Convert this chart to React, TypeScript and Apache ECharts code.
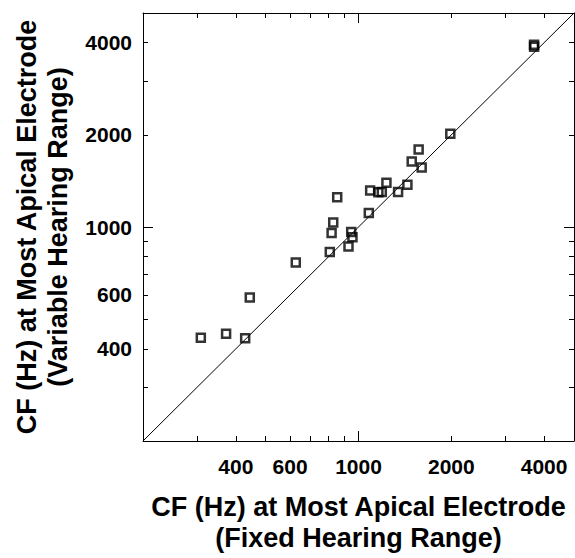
import React, { useEffect, useRef } from "react";
import * as echarts from "echarts";

// CF (Hz) at most apical electrode
const fixedHz = [308, 372, 429, 444, 626, 807, 818, 828, 853, 928, 947, 956, 1080, 1091, 1160, 1190, 1232, 1344, 1441, 1488, 1603, 1567, 1985, 3710, 3712];
const variableHz = [435, 448, 433, 589, 766, 828, 956, 1035, 1250, 863, 963, 926, 1110, 1315, 1298, 1301, 1395, 1301, 1375, 1636, 1564, 1792, 2015, 3935, 3880];
const identityHz = [200, 5000];
const axisRangeHz = [200, 5000];
const tickLabelsHz = [400, 600, 1000, 2000, 4000];
const minorTicksHz = [300, 400, 500, 600, 700, 800, 900, 2000, 3000, 4000];
const majorTicksHz = [1000];

const xTitle = "CF (Hz) at Most Apical Electrode\n(Fixed Hearing Range)";
const yTitle = "CF (Hz) at Most Apical Electrode\n(Variable Hearing Range)";

const lg = (v: number) => Math.log10(v);
const FONT = "'Liberation Sans', Arial, Helvetica, sans-serif";

function axis(position: string, kind: "minor" | "major", withLabels: boolean, extra: any = {}) {
  return {
    type: "value",
    position,
    min: lg(axisRangeHz[0]),
    max: lg(axisRangeHz[1]),
    splitLine: { show: false },
    axisLine: { show: kind === "minor", onZero: false, lineStyle: { color: "#000", width: 1 } },
    axisTick: {
      show: true,
      inside: true,
      length: kind === "minor" ? 5 : 10,
      customValues: (kind === "minor" ? minorTicksHz : majorTicksHz).map(lg),
      lineStyle: { color: "#000", width: 1 },
    },
    axisLabel: withLabels
      ? {
          show: true,
          customValues: tickLabelsHz.map(lg),
          formatter: (v: number) => String(Math.round(Math.pow(10, v))),
          color: "#000",
          fontFamily: FONT,
          fontWeight: "bold",
          fontSize: 21,
          margin: position === "bottom" ? 15 : 11,
        }
      : { show: false },
    ...extra,
  };
}

const nameStyle = {
  color: "#000",
  fontFamily: FONT,
  fontWeight: "bold",
  fontSize: 27,
  lineHeight: 31,
  align: "center",
};

export default function App() {
  const ref = useRef<HTMLDivElement>(null);
  useEffect(() => {
    if (!ref.current) return;
    const chart = echarts.init(ref.current, undefined, { renderer: "svg" });
    chart.setOption({
      animation: false,
      backgroundColor: "#fff",
      grid: { left: 143, top: 13, right: 1, bottom: 112, containLabel: false },
      xAxis: [
        axis("bottom", "minor", true, {
          name: xTitle,
          nameLocation: "middle",
          nameGap: 50,
          nameTextStyle: nameStyle,
        }),
        axis("bottom", "major", false),
        axis("top", "minor", false),
        axis("top", "major", false),
      ],
      yAxis: [
        axis("left", "minor", true, {
          name: yTitle,
          nameLocation: "middle",
          nameGap: 70,
          nameRotate: 90,
          nameTextStyle: nameStyle,
        }),
        axis("left", "major", false),
        axis("right", "minor", false),
        axis("right", "major", false),
      ],
      series: [
        {
          type: "line",
          data: identityHz.map((v) => [lg(v), lg(v)]),
          showSymbol: false,
          symbol: "none",
          silent: true,
          lineStyle: { color: "#000", width: 1 },
          z: 1,
        },
        {
          type: "scatter",
          data: fixedHz.map((x, i) => [lg(x), lg(variableHz[i])]),
          symbol: "rect",
          symbolSize: 8,
          itemStyle: { color: "rgba(0,0,0,0)", borderColor: "#000", borderWidth: 2.5 },
          z: 2,
        },
      ],
    });
    return () => chart.dispose();
  }, []);
  return (
    <div
      ref={ref}
      style={{ position: "absolute", left: 0, top: 0, width: 575, height: 558 }}
    />
  );
}
